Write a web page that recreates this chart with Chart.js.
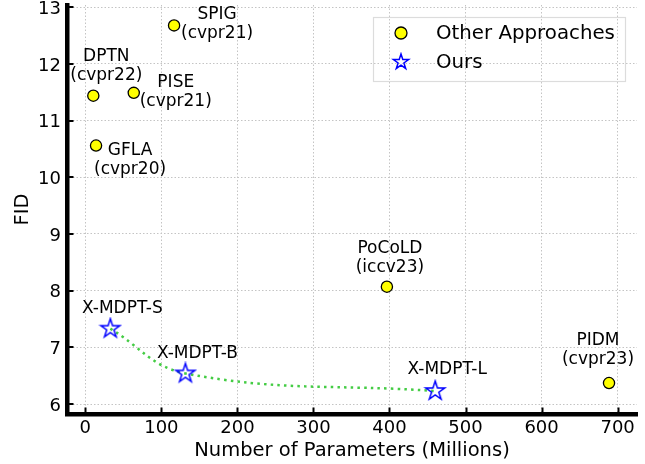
<!DOCTYPE html>
<html>
<head>
<meta charset="utf-8">
<script src="https://cdn.jsdelivr.net/npm/chart.js@4/dist/chart.umd.min.js"></script>
<style>
  html, body { margin: 0; padding: 0; background: #fff; }
  #wrap { width: 645px; height: 464px; }
</style>
</head>
<body>
<div id="wrap"><canvas id="fid-chart"></canvas></div>
<script>
// data
const otherNames = ['SPIG', 'DPTN', 'PISE', 'GFLA', 'PoCoLD', 'PIDM'];
const otherVenues = ['(cvpr21)', '(cvpr22)', '(cvpr21)', '(cvpr20)', '(iccv23)', '(cvpr23)'];
const otherParams = [116.7, 10.5, 63.7, 14.1, 396.6, 688.7];
const otherFid = [12.68, 11.44, 11.49, 10.56, 8.07, 6.37];

const oursNames = ['X-MDPT-S', 'X-MDPT-B', 'X-MDPT-L'];
const oursParams = [32.9, 131.6, 460.1];
const oursFid = [7.33, 6.54, 6.23];

const xTicks = [0, 100, 200, 300, 400, 500, 600, 700];
const yTicks = [6, 7, 8, 9, 10, 11, 12, 13];

// label placement, pixels from the marker (first line centre)
const otherLabelOffsets = [[43, -11], [13, -39], [42, -10], [34, 5], [3, -38], [-11, -42]];
const oursLabelOffsets = [[12, -20], [12, -20], [12, -21]];

const FONT = "'DejaVu Sans', sans-serif";
const BLUE = '#0000ff';

function starPath(ctx, cx, cy, r) {
  const inner = r * 0.381966;
  ctx.beginPath();
  for (let i = 0; i < 10; i++) {
    const rad = i % 2 === 0 ? r : inner;
    const a = -Math.PI / 2 + i * Math.PI / 5;
    const px = cx + rad * Math.cos(a), py = cy + rad * Math.sin(a);
    if (i === 0) ctx.moveTo(px, py); else ctx.lineTo(px, py);
  }
  ctx.closePath();
}

function makeStar(r) {
  const c = document.createElement('canvas');
  const s = Math.ceil(r * 2 + 4);
  c.width = s; c.height = s;
  const g = c.getContext('2d');
  starPath(g, s / 2, s / 2, r);
  g.lineWidth = 1.5;
  g.lineJoin = 'miter';
  g.strokeStyle = BLUE;
  g.stroke();
  return c;
}

const starImg = makeStar(10);
const starLegendImg = makeStar(8);

const toPts = (xs, ys) => xs.map((x, i) => ({ x: x, y: ys[i] }));

const annotate = {
  id: 'annotate',
  afterDatasetsDraw(chart) {
    const { ctx, scales: { x, y } } = chart;
    ctx.save();
    ctx.fillStyle = '#000';
    ctx.font = '17px ' + FONT;
    ctx.textAlign = 'center';
    ctx.textBaseline = 'middle';
    otherNames.forEach((n, i) => {
      const px = x.getPixelForValue(otherParams[i]);
      const py = y.getPixelForValue(otherFid[i]);
      const [dx, dy] = otherLabelOffsets[i];
      ctx.fillText(n, px + dx, py + dy);
      ctx.fillText(otherVenues[i], px + dx, py + dy + 19);
    });
    oursNames.forEach((n, i) => {
      const px = x.getPixelForValue(oursParams[i]);
      const py = y.getPixelForValue(oursFid[i]);
      const [dx, dy] = oursLabelOffsets[i];
      ctx.fillText(n, px + dx, py + dy);
    });
    ctx.restore();
  },
  afterDraw(chart) {
    const { ctx, chartArea: a, scales: { x, y } } = chart;
    ctx.save();
    // inward tick marks
    ctx.strokeStyle = '#000';
    ctx.lineWidth = 2;
    xTicks.forEach(v => {
      const px = Math.round(x.getPixelForValue(v)) + 0.5;
      ctx.beginPath(); ctx.moveTo(px, a.bottom); ctx.lineTo(px, a.bottom - 6.5); ctx.stroke();
    });
    yTicks.forEach(v => {
      const py = Math.round(y.getPixelForValue(v));
      ctx.beginPath(); ctx.moveTo(a.left, py); ctx.lineTo(a.left + 6.5, py); ctx.stroke();
    });

    // legend box
    const lx = 373, ly = 17, lw = 252, lh = 64;
    ctx.strokeStyle = '#dcdcdc';
    ctx.lineWidth = 1.2;
    ctx.strokeRect(lx + 0.5, ly + 0.5, lw, lh);
    ctx.beginPath();
    ctx.arc(401, 33, 6, 0, Math.PI * 2);
    ctx.fillStyle = '#ffff00';
    ctx.fill();
    ctx.strokeStyle = '#000';
    ctx.lineWidth = 1.3;
    ctx.stroke();
    ctx.drawImage(starLegendImg, 401 - starLegendImg.width / 2, 62 - starLegendImg.height / 2);
    ctx.fillStyle = '#000';
    ctx.font = '19.8px ' + FONT;
    ctx.textAlign = 'left';
    ctx.textBaseline = 'middle';
    ctx.fillText(chart.data.datasets[0].label, 436, 33.5);
    ctx.fillText(chart.data.datasets[1].label, 436, 62.5);
    ctx.restore();
  }
};

new Chart(document.getElementById('fid-chart'), {
  type: 'scatter',
  data: {
    datasets: [{
      label: 'Other Approaches',
      data: toPts(otherParams, otherFid),
      pointStyle: 'circle',
      pointRadius: 5.6,
      pointBackgroundColor: '#ffff00',
      pointBorderColor: '#000',
      pointBorderWidth: 1.3,
      order: 1
    }, {
      label: 'Ours',
      data: toPts(oursParams, oursFid),
      pointStyle: starImg,
      pointRadius: 10,
      order: 2
    }, {
      label: 'trend',
      data: toPts(oursParams, oursFid),
      showLine: true,
      pointRadius: 0,
      borderColor: '#44cc44',
      borderWidth: 2.5,
      borderDash: [2.5, 4.2],
      tension: 0.4,
      order: 3
    }]
  },
  options: {
    responsive: true,
    maintainAspectRatio: false,
    animation: false,
    events: [],
    layout: { autoPadding: false, padding: { top: 5, right: 8, left: 0, bottom: 0 } },
    plugins: {
      legend: { display: false },
      tooltip: { enabled: false }
    },
    scales: {
      x: {
        type: 'linear',
        min: -24.1,
        max: 725.5,
        afterBuildTicks: s => { s.ticks = xTicks.map(v => ({ value: v })); },
        afterFit: s => { s.height = 50; s.paddingLeft = 0; s.paddingRight = 0; },
        ticks: { color: '#000', font: { family: FONT, size: 18 }, padding: 4, maxRotation: 0 },
        grid: { color: '#c4c4c4', lineWidth: 1, drawTicks: false },
        border: { display: true, color: '#000', width: 4.5, dash: [1.5, 2] },
        title: {
          display: true, text: 'Number of Parameters (Millions)', color: '#000',
          font: { family: FONT, size: 19.5 }, padding: { top: 0, bottom: 1 }
        }
      },
      y: {
        type: 'linear',
        min: 5.824,
        max: 13.04,
        afterBuildTicks: s => { s.ticks = yTicks.map(v => ({ value: v })); },
        afterFit: s => { s.width = 67; s.paddingTop = 0; s.paddingBottom = 0; },
        ticks: { color: '#000', font: { family: FONT, size: 18, lineHeight: 0.5 }, padding: 6, labelOffset: 2 },
        grid: { color: '#c4c4c4', lineWidth: 1, drawTicks: false },
        border: { display: true, color: '#000', width: 4.5, dash: [1.5, 2] },
        title: {
          display: true, text: 'FID', color: '#000',
          font: { family: FONT, size: 19.5 }, padding: { top: 11, bottom: 0 }
        }
      }
    }
  },
  plugins: [annotate]
});
</script>
</body>
</html>
